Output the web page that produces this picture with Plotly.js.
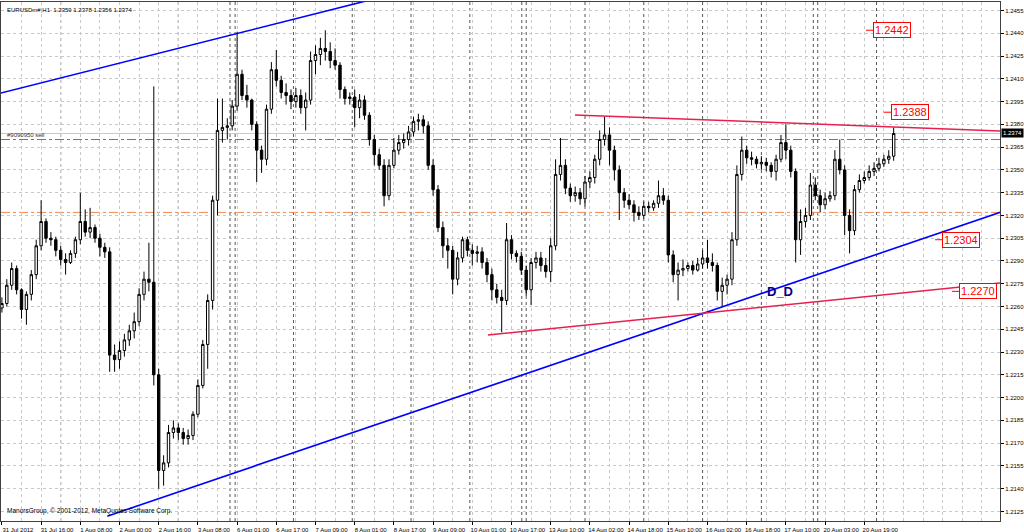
<!DOCTYPE html>
<html>
<head>
<meta charset="utf-8">
<script src="https://cdn.plot.ly/plotly-3.0.1.min.js"></script>
<style>html,body{margin:0;padding:0;background:#fff;}#chart{width:1024px;height:532px;}</style>
</head>
<body>
<div id="chart"></div>
<script>
// EURUSDm#, 2-hour candles (31 Jul 2012 – 21 Aug 2012)
const open = [1.2259,1.2262,1.2274,1.2285,1.2271,1.2258,1.2268,1.2281,1.2300,1.2316,1.2305,1.2304,1.2297,1.2291,1.2289,1.2295,1.2304,1.2316,1.2309,1.2312,
1.2305,1.2299,1.2296,1.2228,1.2225,1.2231,1.2238,1.2244,1.2250,1.2268,1.2278,1.2276,1.2215,1.2152,1.2157,1.2177,1.2180,1.2177,1.2173,1.2175,
1.2189,1.2208,1.2235,1.2264,1.2330,1.2376,1.2378,1.2379,1.2392,1.2413,1.2399,1.2396,1.2380,1.2363,1.2357,1.2390,1.2416,1.2409,1.2401,1.2399,
1.2395,1.2399,1.2391,1.2396,1.2422,1.2426,1.2430,1.2428,1.2422,1.2419,1.2403,1.2397,1.2398,1.2391,1.2396,1.2386,1.2370,1.2360,1.2353,1.2333,
1.2353,1.2363,1.2368,1.2370,1.2375,1.2382,1.2383,1.2379,1.2353,1.2337,1.2312,1.2300,1.2297,1.2278,1.2292,1.2304,1.2297,1.2295,1.2296,1.2289,
1.2281,1.2271,1.2266,1.2264,1.2304,1.2295,1.2293,1.2284,1.2271,1.2289,1.2292,1.2287,1.2283,1.2300,1.2347,1.2353,1.2338,1.2333,1.2335,1.2331,
1.2342,1.2345,1.2357,1.2370,1.2373,1.2363,1.2350,1.2335,1.2330,1.2327,1.2322,1.2320,1.2326,1.2325,1.2328,1.2333,1.2330,1.2294,1.2281,1.2284,
1.2285,1.2287,1.2284,1.2288,1.2292,1.2289,1.2287,1.2270,1.2274,1.2278,1.2304,1.2347,1.2363,1.2358,1.2357,1.2354,1.2355,1.2353,1.2349,1.2357,
1.2368,1.2363,1.2349,1.2304,1.2316,1.2320,1.2340,1.2333,1.2327,1.2331,1.2333,1.2357,1.2350,1.2320,1.2310,1.2337,1.2343,1.2345,1.2349,1.2351,
1.2354,1.2357,1.2359];
const high = [1.2266,1.2278,1.2289,1.2287,1.2272,1.2270,1.2284,1.2304,1.2330,1.2318,1.2309,1.2306,1.2300,1.2295,1.2297,1.2306,1.2335,1.2324,1.2325,1.2314,
1.2308,1.2302,1.2299,1.2235,1.2237,1.2242,1.2248,1.2256,1.2272,1.2283,1.2302,1.2405,1.2219,1.2162,1.2182,1.2185,1.2183,1.2180,1.2179,1.2191,
1.2212,1.2238,1.2268,1.2333,1.2397,1.2397,1.2384,1.2396,1.2441,1.2416,1.2406,1.2397,1.2382,1.2366,1.2393,1.2421,1.2429,1.2412,1.2407,1.2403,
1.2404,1.2403,1.2401,1.2428,1.2432,1.2437,1.2442,1.2434,1.2430,1.2421,1.2405,1.2401,1.2403,1.2400,1.2399,1.2388,1.2373,1.2364,1.2357,1.2357,
1.2371,1.2373,1.2374,1.2379,1.2385,1.2387,1.2386,1.2382,1.2357,1.2340,1.2316,1.2305,1.2300,1.2296,1.2306,1.2306,1.2301,1.2300,1.2299,1.2292,
1.2285,1.2275,1.2271,1.2315,1.2307,1.2297,1.2296,1.2287,1.2292,1.2296,1.2296,1.2292,1.2305,1.2357,1.2371,1.2357,1.2341,1.2339,1.2338,1.2346,
1.2349,1.2360,1.2376,1.2385,1.2378,1.2366,1.2353,1.2338,1.2334,1.2330,1.2326,1.2329,1.2329,1.2330,1.2343,1.2338,1.2333,1.2297,1.2289,1.2291,
1.2289,1.2290,1.2292,1.2297,1.2304,1.2295,1.2289,1.2279,1.2281,1.2309,1.2353,1.2372,1.2366,1.2362,1.2359,1.2359,1.2358,1.2355,1.2360,1.2373,
1.2380,1.2366,1.2351,1.2324,1.2325,1.2348,1.2345,1.2337,1.2335,1.2336,1.2363,1.2370,1.2353,1.2324,1.2340,1.2347,1.2349,1.2353,1.2355,1.2358,
1.2360,1.2363,1.2378];
const low = [1.2256,1.2260,1.2271,1.2268,1.2252,1.2248,1.2264,1.2278,1.2297,1.2302,1.2300,1.2293,1.2287,1.2281,1.2288,1.2292,1.2301,1.2306,1.2305,1.2302,
1.2293,1.2292,1.2217,1.2217,1.2219,1.2227,1.2234,1.2239,1.2247,1.2264,1.2270,1.2208,1.2140,1.2142,1.2154,1.2173,1.2172,1.2169,1.2169,1.2172,
1.2187,1.2206,1.2219,1.2258,1.2320,1.2368,1.2370,1.2376,1.2389,1.2396,1.2391,1.2376,1.2342,1.2348,1.2353,1.2387,1.2405,1.2397,1.2393,1.2390,
1.2391,1.2387,1.2376,1.2393,1.2413,1.2419,1.2422,1.2417,1.2416,1.2397,1.2393,1.2393,1.2378,1.2384,1.2383,1.2366,1.2353,1.2350,1.2326,1.2330,
1.2351,1.2360,1.2364,1.2366,1.2372,1.2376,1.2374,1.2350,1.2333,1.2309,1.2292,1.2285,1.2268,1.2274,1.2289,1.2293,1.2287,1.2289,1.2285,1.2276,
1.2264,1.2262,1.2243,1.2261,1.2291,1.2289,1.2281,1.2267,1.2261,1.2285,1.2283,1.2279,1.2276,1.2297,1.2343,1.2334,1.2329,1.2329,1.2327,1.2326,
1.2338,1.2341,1.2353,1.2366,1.2353,1.2343,1.2317,1.2325,1.2324,1.2316,1.2317,1.2318,1.2322,1.2323,1.2325,1.2327,1.2289,1.2276,1.2264,1.2280,
1.2283,1.2281,1.2283,1.2285,1.2285,1.2283,1.2264,1.2260,1.2268,1.2274,1.2300,1.2343,1.2354,1.2353,1.2351,1.2350,1.2349,1.2345,1.2343,1.2355,
1.2357,1.2345,1.2289,1.2294,1.2312,1.2317,1.2330,1.2322,1.2324,1.2329,1.2330,1.2347,1.2307,1.2295,1.2307,1.2335,1.2341,1.2343,1.2346,1.2349,
1.2352,1.2354,1.2356];
const close = [1.2262,1.2274,1.2285,1.2271,1.2258,1.2268,1.2281,1.2300,1.2316,1.2305,1.2304,1.2297,1.2291,1.2289,1.2295,1.2304,1.2316,1.2309,1.2312,1.2305,
1.2299,1.2296,1.2228,1.2225,1.2231,1.2238,1.2244,1.2250,1.2268,1.2278,1.2276,1.2215,1.2152,1.2157,1.2177,1.2180,1.2177,1.2173,1.2175,1.2189,
1.2208,1.2235,1.2264,1.2330,1.2376,1.2378,1.2379,1.2392,1.2413,1.2399,1.2396,1.2380,1.2363,1.2357,1.2390,1.2416,1.2409,1.2401,1.2399,1.2395,
1.2399,1.2391,1.2396,1.2422,1.2426,1.2430,1.2428,1.2422,1.2419,1.2403,1.2397,1.2398,1.2391,1.2396,1.2386,1.2370,1.2360,1.2353,1.2333,1.2353,
1.2363,1.2368,1.2370,1.2375,1.2382,1.2383,1.2379,1.2353,1.2337,1.2312,1.2300,1.2297,1.2278,1.2292,1.2304,1.2297,1.2295,1.2296,1.2289,1.2281,
1.2271,1.2266,1.2264,1.2304,1.2295,1.2293,1.2284,1.2271,1.2289,1.2292,1.2287,1.2283,1.2300,1.2347,1.2353,1.2338,1.2333,1.2335,1.2331,1.2342,
1.2345,1.2357,1.2370,1.2373,1.2363,1.2350,1.2335,1.2330,1.2327,1.2322,1.2320,1.2326,1.2325,1.2328,1.2333,1.2330,1.2294,1.2281,1.2284,1.2285,
1.2287,1.2284,1.2288,1.2292,1.2289,1.2287,1.2270,1.2274,1.2278,1.2304,1.2347,1.2363,1.2358,1.2357,1.2354,1.2355,1.2353,1.2349,1.2357,1.2368,
1.2363,1.2349,1.2304,1.2316,1.2320,1.2340,1.2333,1.2327,1.2331,1.2333,1.2357,1.2350,1.2320,1.2310,1.2337,1.2343,1.2345,1.2349,1.2351,1.2354,
1.2357,1.2359,1.2374];

const xTickText = ['31 Jul 2012','31 Jul 16:00','1 Aug 08:00','2 Aug 00:00','2 Aug 16:00','3 Aug 08:00','6 Aug 01:00','6 Aug 17:00',
'7 Aug 09:00','8 Aug 01:00','8 Aug 17:00','9 Aug 09:00','10 Aug 01:00','10 Aug 17:00','13 Aug 10:00','14 Aug 02:00','14 Aug 18:00',
'15 Aug 10:00','16 Aug 02:00','16 Aug 18:00','17 Aug 10:00','20 Aug 03:00','20 Aug 19:00'];
const yTickText = ['1.2125','1.2140','1.2155','1.2170','1.2185','1.2200','1.2215','1.2230','1.2245','1.2260','1.2275','1.2290',
'1.2305','1.2320','1.2335','1.2350','1.2365','1.2380','1.2395','1.2410','1.2425','1.2440','1.2455'];

// chart objects (hourly bar index, price)
const separators = [24,48,72,93.1,95.2,119,143,167,191,212.2,214,238,262,286,310,331.2,333,357];
const trendLines = [
  {i0:-1, p0:1.24004, i1:160, p1:1.24659, color:'#0000ff', width:1.6},
  {i0:43, p0:1.21219, i1:420, p1:1.23289, color:'#0000ff', width:1.6},
  {i0:233.9, p0:1.23862, i1:420, p1:1.23748, color:'#e8204f', width:1.5},
  {i0:198.4, p0:1.22412, i1:420, p1:1.22775, color:'#e8204f', width:1.5}
];
const priceLabels = [
  {i:352.7, p:1.2442, text:'1.2442'},
  {i:360.0, p:1.2388, text:'1.2388'},
  {i:380.9, p:1.2304, text:'1.2304'},
  {i:387.8, p:1.2270, text:'1.2270'}
];
const sellLevel = 1.2370, stopLevel = 1.2322, bidLevel = 1.2374;

const barIndex = open.map((_, k) => 2 * k);
const F = 'Liberation Sans, Arial, sans-serif';

const trace = {
  type: 'candlestick', x: barIndex, open: open, high: high, low: low, close: close,
  increasing: {line: {color: '#000000', width: 1}, fillcolor: '#ffffff'},
  decreasing: {line: {color: '#000000', width: 1}, fillcolor: '#000000'},
  whiskerwidth: 0, hoverinfo: 'skip', showlegend: false
};

const shapes = [];
separators.forEach(s => shapes.push({type:'line', xref:'x', yref:'paper', x0:s, x1:s, y0:0, y1:1,
  line:{color:'#555555', width:1, dash:'dot'}, layer:'between'}));
shapes.push({type:'line', xref:'paper', yref:'y', x0:0, x1:1, y0:bidLevel, y1:bidLevel, line:{color:'#c8c8c8', width:1}, layer:'between'});
shapes.push({type:'line', xref:'paper', yref:'y', x0:0, x1:1, y0:sellLevel, y1:sellLevel, line:{color:'#4f8c68', width:1, dash:'dashdot'}, layer:'between'});
shapes.push({type:'line', xref:'paper', yref:'y', x0:0, x1:1, y0:stopLevel, y1:stopLevel, line:{color:'#f4884a', width:1, dash:'dashdot'}, layer:'between'});
trendLines.forEach(t => shapes.push({type:'line', xref:'x', yref:'y', x0:t.i0, y0:t.p0, x1:t.i1, y1:t.p1,
  line:{color:t.color, width:t.width}, layer:'above'}));

const annotations = [];
priceLabels.forEach(l => annotations.push({x:l.i, y:l.p, xref:'x', yref:'y', text:l.text, showarrow:true,
  arrowhead:0, arrowwidth:1, arrowcolor:'#ff0000', ax:26, ay:0, standoff:0,
  font:{family:F, size:11, color:'#ff0000'}, bordercolor:'#ff0000', borderwidth:1, borderpad:1, bgcolor:'#ffffff'}));
annotations.push({x:317.6, y:1.2270, xref:'x', yref:'y', text:'D_D', showarrow:false,
  font:{family:F, size:13, color:'#00008b', weight:'bold'}});
annotations.push({x:0, y:1, xref:'paper', yref:'paper', xanchor:'left', yanchor:'top', xshift:4, yshift:-3, showarrow:false,
  text:'EURUSDm#,H1\u00a0\u00a01.2359 1.2378 1.2356 1.2374', font:{family:F, size:6, color:'#000000'}});
annotations.push({x:0, y:0, xref:'paper', yref:'paper', xanchor:'left', yanchor:'bottom', xshift:4, yshift:4, showarrow:false,
  text:'ManorsGroup, © 2001-2012, MetaQuotes Software Corp.', font:{family:F, size:6.5, color:'#000000'}});
annotations.push({x:0, y:sellLevel, xref:'paper', yref:'y', xanchor:'left', yanchor:'bottom', xshift:4, yshift:0, showarrow:false,
  text:'#9090950 sell', font:{family:F, size:6, color:'#333333'}});
annotations.push({x:1, y:bidLevel, xref:'paper', yref:'y', xanchor:'left', yanchor:'middle', xshift:1, showarrow:false,
  text:'1.2374', bgcolor:'#000000', font:{family:F, size:6, color:'#ffffff'}, borderpad:1});

const layout = {
  width: 1024, height: 532,
  margin: {l: 1, r: 24, t: 2, b: 11, pad: 0},
  paper_bgcolor: '#ffffff', plot_bgcolor: '#ffffff',
  showlegend: false,
  xaxis: {
    range: [-0.37, 407.4], rangeslider: {visible: false}, fixedrange: true,
    tickmode: 'array', tickvals: xTickText.map((_, k) => 16 * k), ticktext: xTickText,
    ticks: 'outside', ticklen: 3, tickcolor: '#000000', ticklabelshift: 16, ticklabelstandoff: 0,
    tickfont: {family: F, size: 6, color: '#000000'},
    showgrid: true, gridcolor: '#c8c8c8', gridwidth: 1, griddash: 'dot',
    minor: {tick0: 0, dtick: 8, showgrid: true, gridcolor: '#c8c8c8', griddash: 'dot', ticks: ''},
    showline: true, mirror: true, linecolor: '#404040', linewidth: 1, zeroline: false
  },
  yaxis: {
    range: [1.21187, 1.24606], side: 'right', fixedrange: true,
    tickmode: 'array', tickvals: yTickText.map(Number), ticktext: yTickText,
    ticks: 'outside', ticklen: 3, tickcolor: '#000000',
    tickfont: {family: F, size: 6, color: '#000000'},
    showgrid: true, gridcolor: '#c8c8c8', gridwidth: 1, griddash: 'dot',
    showline: true, mirror: true, linecolor: '#404040', linewidth: 1, zeroline: false
  },
  shapes: shapes,
  annotations: annotations
};

Plotly.newPlot('chart', [trace], layout, {displayModeBar: false, staticPlot: true});
</script>
</body>
</html>
